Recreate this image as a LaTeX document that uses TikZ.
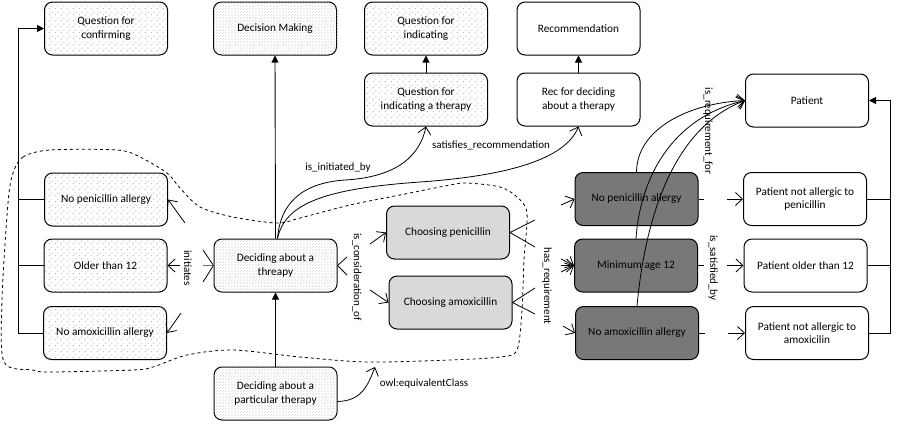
\documentclass[tikz,border=0pt]{standalone}
\usepackage{fontspec}
\setmainfont{Carlito}
\usetikzlibrary{arrows.meta,patterns.meta,calc}
\tikzdeclarepattern{name=sparsedots, type=uncolored, bounding box={(0pt,0pt) and (6pt,6pt)}, tile size={(6pt,6pt)}, code={\fill (1.5pt,1.5pt) circle (0.45pt); \fill (4.5pt,4.5pt) circle (0.45pt);}}
\tikzdeclarepattern{name=finedots, type=uncolored, bounding box={(0pt,0pt) and (3pt,3pt)}, tile size={(3pt,3pt)}, code={\fill (0.75pt,0.75pt) circle (0.42pt); \fill (2.25pt,2.25pt) circle (0.42pt);}}
\tikzset{
  box/.style={draw, line width=1pt, rounded corners=8pt, minimum width=123pt, minimum height=53pt, align=center, font=\fontsize{11.3}{13.5}\selectfont, inner sep=2pt},
  sparse/.style={box, fill=white, postaction={pattern=sparsedots, pattern color=black!70}},
  fine/.style={box, fill=white, postaction={pattern=finedots, pattern color=black!30}},
  light/.style={box, fill=black!15},
  dark/.style={box, fill=black!53},
  plain/.style={box, fill=white},
  lbl/.style={font=\fontsize{11}{13}\selectfont, inner sep=1pt},
  ln/.style={line width=0.8pt},
  fil/.style={line width=0.9pt, -{Triangle[length=7pt,width=7pt]}},
  opn/.style={line width=0.8pt, -{Straight Barb[length=7pt,width=13pt]}},
}
\begin{document}
\begin{tikzpicture}[x=1pt,y=-1pt]
\useasboundingbox (0,0) rectangle (899,424);
% dashed region
\draw[dashed, line width=0.8pt] plot[smooth cycle, tension=0.5] coordinates {
 (13,173) (23,157) (50,150) (117,150) (140,157) (167,173) (180,188) (200,207) (233,217) (277,223) (300,218) (350,205) (400,195) (450,185) (467,183) (500,187) (517,197) (527,213) (524,260) (522,310) (517,350) (500,357) (450,360) (367,362) (300,357) (233,350) (187,355) (153,367) (133,370) (50,372) (33,370) (4,362) (2,300) (8,203)};
% nodes
\node[sparse] (qc) at (106,28.5) {Question for\\confirming};
\node[fine] (dm) at (275,28.5) {Decision Making};
\node[sparse] (qi) at (426,28.5) {Question for\\indicating};
\node[plain] (rec) at (578.5,28.5) {Recommendation};
\node[sparse] (qit) at (426,99.5) {Question for\\indicating a therapy};
\node[plain] (rdt) at (578.5,99.5) {Rec for deciding\\about a therapy};
\node[plain] (pat) at (807,100.5) {Patient};
\node[sparse] (npa) at (106,199.5) {No penicillin allergy};
\node[sparse] (o12) at (105.5,265.5) {Older than 12};
\node[sparse] (naa) at (105,333) {No amoxicillin allergy};
\node[fine] (dat) at (275.5,265.5) {Deciding about a\\threapy};
\node[fine] (dap) at (275.5,393.5) {Deciding about a\\particular therapy};
\node[light] (cp) at (448,232.5) {Choosing penicillin};
\node[light] (ca) at (450.5,302.5) {Choosing amoxicillin};
\node[dark] (dnp) at (636.5,199) {No penicillin allergy};
\node[dark] (dm12) at (636,265.5) {Minimum age 12};
\node[dark] (dna) at (637,333) {No amoxicillin allergy};
\node[plain] (pnp) at (805,199) {Patient not allergic to\\penicillin};
\node[plain] (po12) at (805.5,265.5) {Patient older than 12};
\node[plain] (pna) at (807,333) {Patient not allergic to\\amoxicilin};
% labels
\node[lbl, rotate=-90] (l1) at (188,268) {initiates};
\node[lbl, rotate=-90] (l2) at (357,277) {is\_consideration\_of};
\node[lbl, rotate=-90] (l3) at (547,286) {has\_requirement};
\node[lbl, rotate=-90] (l4) at (713,268) {is\_satisfied\_by};
\node[lbl, rotate=-90] (l5) at (708,131) {is\_requirement\_for};
\node[lbl] (l6) at (338,168) {is\_initiated\_by};
\node[lbl] (l7) at (491,145) {satisfies\_recommendation};
\node[lbl] (l8) at (424,384) {owl:equivalentClass};
% coordinates
\coordinate (bus) at (18,28.5);
\coordinate (rbus) at (890,100.5);
\coordinate (ds) at ($(dat.north)+(2,0)$);
\coordinate (eq) at (375,367);
% buses
\draw[fil] (naa.west) -| (bus) -- (qc.west);
\draw[ln] (npa.west) -- (npa.west -| bus);
\draw[ln] (o12.west) -- (o12.west -| bus);
\draw[fil] (pna.east) -| (rbus) -- (pat.east);
\draw[ln] (pnp.east) -- (pnp.east -| rbus);
\draw[ln] (po12.east) -- (po12.east -| rbus);
% vertical
\draw[fil] (dat.north) -- (dm.south);
\draw[fil] (dap.north) -- (dat.south);
\draw[fil] (qit.north) -- (qi.south);
\draw[fil] (rdt.north) -- (rec.south);
% curves
\draw[opn] (ds) .. controls (280,205) and (300,183) .. (345,180) .. controls (398,177) and (420,155) .. (qit.south);
\draw[opn] (ds) .. controls (285,205) and (320,189) .. (420,182) .. controls (505,176) and (565,160) .. (rdt.south);
\draw[opn] ($(dap.east)+(0,8)$) .. controls (362,401) and (368,385) .. (eq);
% initiates stubs
\coordinate (s1) at (185,223);
\coordinate (s2) at (180,265.5);
\coordinate (s3) at (181,313);
\draw[opn] (s1) -- (npa.east);
\draw[opn] (s2) -- (o12.east);
\draw[opn] (s3) -- (naa.east);
\coordinate (f1) at (203,250);
\coordinate (f2) at (203,265.5);
\coordinate (f3) at (203,282);
\draw[ln] (f1) -- (dat.west) -- (f3);
\draw[ln, black!60] (f2) -- (dat.west);
% consideration
\coordinate (c1) at (347,257);
\coordinate (c2) at (347,275);
\draw[ln] (c1) -- (dat.east) -- (c2);
\coordinate (c3) at (370,244);
\coordinate (c4) at (370,290);
\draw[opn] (c3) -- (cp.west);
\draw[opn] (c4) -- (ca.west);
% has_requirement
\coordinate (h1) at (535,220);
\coordinate (h2) at (535,247);
\coordinate (h3) at (535,288);
\coordinate (h4) at (535,314);
\draw[ln] (h1) -- (cp.east) -- (h2);
\draw[ln] (h3) -- (ca.east) -- (h4);
\coordinate (h5) at (561,205);
\coordinate (h6) at (561,259);
\coordinate (h7) at (561,265.5);
\coordinate (h8) at (561,272);
\coordinate (h9) at (563,326);
\draw[opn] (h5) -- (dnp.west);
\draw[opn] (h6) -- (dm12.west);
\draw[opn] (h7) -- (dm12.west);
\draw[opn] (h8) -- (dm12.west);
\draw[opn] (h9) -- (dna.west);
% is_satisfied_by
\coordinate (t1) at (704,199);
\coordinate (t2) at (704,265.5);
\coordinate (t3) at (705,333);
\draw[ln] (dnp.east) -- (t1);
\draw[ln] (dm12.east) -- (t2);
\draw[ln] (dna.east) -- (t3);
\coordinate (u1) at (727,199);
\coordinate (u2) at (727,265.5);
\coordinate (u3) at (728,333);
\draw[opn] (u1) -- (pnp.west);
\draw[opn] (u2) -- (po12.west);
\draw[opn] (u3) -- (pna.west);
% is_requirement_for
\draw[opn] (dnp.north) .. controls (637,128) and (690,103) .. (pat.west);
\draw[opn] (dm12.north) .. controls (640,180) and (670,118) .. (pat.west);
\draw[opn] (dna.north) .. controls (645,220) and (672,128) .. (pat.west);
\end{tikzpicture}
\end{document}
